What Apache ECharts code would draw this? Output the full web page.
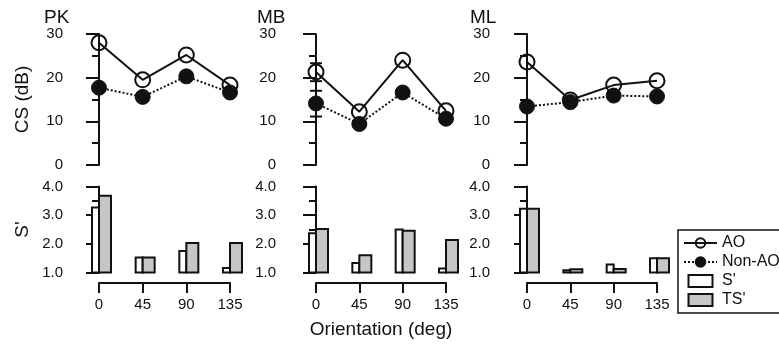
<!DOCTYPE html>
<html>
<head>
<meta charset="utf-8">
<script src="https://cdn.jsdelivr.net/npm/echarts@6/dist/echarts.min.js"></script>
<style>
  html, body { margin: 0; padding: 0; background: #fff; }
  #chart { width: 779px; height: 345px; }
</style>
</head>
<body>
<div id="chart"></div>
<script>
// orientations (deg) and subjects
var angles = [0, 45, 90, 135];
var subjects = ['PK', 'MB', 'ML'];

// contrast sensitivity (dB)
var pkAO = [28.0, 19.5, 25.2, 18.3];
var pkNonAO = [17.7, 15.6, 20.3, 16.6];
var mbAO = [21.3, 12.2, 24.0, 12.4];
var mbNonAO = [14.1, 9.4, 16.6, 10.6];
var mlAO = [23.6, 14.9, 18.3, 19.3];
var mlNonAO = [13.4, 14.4, 15.9, 15.7];

// error bars at 0 deg for MB: [low, high]
var mbAOErr = [19.2, 23.3];
var mbNonAOErr = [11.1, 17.0];

// S' and TS'
var pkS = [3.27, 1.52, 1.75, 1.16];
var pkTS = [3.68, 1.52, 2.03, 2.03];
var mbS = [2.37, 1.33, 2.50, 1.14];
var mbTS = [2.52, 1.60, 2.46, 2.13];
var mlS = [3.22, 1.08, 1.28, 1.50];
var mlTS = [3.22, 1.11, 1.12, 1.50];

var csTicks = [0, 30, 10];   // min, max, step
var sTicks = [1, 4, 1];

var aoSets = [pkAO, mbAO, mlAO];
var nonAoSets = [pkNonAO, mbNonAO, mlNonAO];
var sSets = [pkS, mbS, mlS];
var tsSets = [pkTS, mbTS, mlTS];

// pixel layout of each panel column: y axis x, x of 0 deg, x of 135 deg
var cols = [
  {axisX: 80, x0: 99, x135: 230, titleX: 44},
  {axisX: 293, x0: 316, x135: 446, titleX: 257},
  {axisX: 507, x0: 527, x135: 657, titleX: 470}
];
var xMax = 150;
var FONT = '"Liberation Sans", Arial, Helvetica, sans-serif';
var INK = '#111';
var GREY = '#c6c6c6';

var chart = echarts.init(document.getElementById('chart'));

var grids = [], xAxes = [], yAxes = [], series = [], titles = [];

function yAxisBase(gi, min, max, step, fmt) {
  return {
    type: 'value', gridIndex: gi, min: min, max: max, interval: step,
    axisLine: {show: true, lineStyle: {color: INK, width: 2}},
    axisTick: {show: true, length: 13, lineStyle: {color: INK, width: 2}},
    minorTick: {show: true, splitNumber: 2, length: 7, lineStyle: {color: INK, width: 2}},
    splitLine: {show: false},
    axisLabel: {color: INK, fontSize: 15, fontFamily: FONT, margin: 17, formatter: fmt}
  };
}

// bar drawn from the 1.0 floor up to the value; side -1 = left of tick, 1 = right
function barRender(side, width, fill) {
  return function (params, api) {
    var x = api.value(0);
    var top = api.coord([x, api.value(1)]);
    var base = api.coord([x, sTicks[0]]);
    var left = side < 0 ? top[0] - width : top[0];
    return {
      type: 'rect',
      shape: {x: left, y: top[1], width: width, height: base[1] - top[1]},
      style: {fill: fill, stroke: INK, lineWidth: 2}
    };
  };
}

cols.forEach(function (c, i) {
  var scale = (c.x135 - c.x0) / 135;
  var xMin = -(c.x0 - c.axisX) / scale;
  var w = (xMax - xMin) * scale;
  var gTop = i * 3, gBar = i * 3 + 1, gAx = i * 3 + 2;

  grids.push({left: c.axisX, top: 34, width: w, height: 131});
  grids.push({left: c.axisX, top: 186.5, width: w, height: 86});
  grids.push({left: c.x0, top: 270, width: c.x135 - c.x0, height: 13});

  var hidX = {type: 'value', min: xMin, max: xMax, show: false};
  xAxes.push(Object.assign({gridIndex: gTop}, hidX));
  xAxes.push(Object.assign({gridIndex: gBar}, hidX));
  xAxes.push({
    type: 'value', gridIndex: gAx, min: 0, max: 135, interval: 45,
    axisLine: {show: true, lineStyle: {color: INK, width: 2}},
    axisTick: {show: true, length: 10, lineStyle: {color: INK, width: 2}},
    splitLine: {show: false},
    axisLabel: {color: INK, fontSize: 15, fontFamily: FONT, margin: 14},
    name: i === 1 ? 'Orientation (deg)' : '',
    nameLocation: 'middle', nameGap: 37,
    nameTextStyle: {color: INK, fontSize: 19, fontFamily: FONT}
  });

  var yTop = yAxisBase(gTop, csTicks[0], csTicks[1], csTicks[2]);
  var yBar = yAxisBase(gBar, sTicks[0], sTicks[1], sTicks[2], function (v) { return v.toFixed(1); });
  if (i === 0) {
    yTop.name = 'CS (dB)';
    yBar.name = "S'";
    [yTop, yBar].forEach(function (y) {
      y.nameLocation = 'middle';
      y.nameGap = 48;
      y.nameTextStyle = {color: INK, fontSize: 19, fontFamily: FONT};
    });
  }
  yAxes.push(yTop, yBar, {type: 'value', gridIndex: gAx, min: 0, max: 1, show: false});

  titles.push({text: subjects[i], left: c.titleX, top: 8, padding: 0,
    textStyle: {color: INK, fontSize: 19, fontWeight: 'normal', fontFamily: FONT}});

  series.push({
    name: 'AO', type: 'line', xAxisIndex: gTop, yAxisIndex: gTop,
    data: angles.map(function (a, j) { return [a, aoSets[i][j]]; }),
    symbol: 'circle', symbolSize: 15, z: 2,
    lineStyle: {color: INK, width: 2, type: 'solid'},
    itemStyle: {color: 'rgba(255,255,255,0)', borderColor: INK, borderWidth: 2}
  });
  series.push({
    name: 'Non-AO', type: 'line', xAxisIndex: gTop, yAxisIndex: gTop,
    data: angles.map(function (a, j) { return [a, nonAoSets[i][j]]; }),
    symbol: 'circle', symbolSize: 15, z: 3,
    lineStyle: {color: INK, width: 2, type: [2, 2]},
    itemStyle: {color: INK, borderColor: INK, borderWidth: 1}
  });

  series.push({
    name: "S'", type: 'custom', xAxisIndex: gBar, yAxisIndex: gBar,
    renderItem: barRender(-1, 7, '#fff'),
    itemStyle: {color: '#fff', borderColor: INK, borderWidth: 2},
    encode: {x: 0, y: 1},
    data: angles.map(function (a, j) { return [a, sSets[i][j]]; })
  });
  series.push({
    name: "TS'", type: 'custom', xAxisIndex: gBar, yAxisIndex: gBar,
    renderItem: barRender(1, 12, GREY),
    itemStyle: {color: GREY, borderColor: INK, borderWidth: 2},
    encode: {x: 0, y: 1},
    data: angles.map(function (a, j) { return [a, tsSets[i][j]]; })
  });
});

// error bars (MB, 0 deg)
function errRender(params, api) {
  var x = api.value(0);
  var lo = api.coord([x, api.value(1)]);
  var hi = api.coord([x, api.value(2)]);
  var w = 6;
  var st = {stroke: INK, lineWidth: 2};
  return {type: 'group', children: [
    {type: 'line', shape: {x1: lo[0], y1: lo[1], x2: hi[0], y2: hi[1]}, style: st},
    {type: 'line', shape: {x1: lo[0] - w, y1: lo[1], x2: lo[0] + w, y2: lo[1]}, style: st},
    {type: 'line', shape: {x1: hi[0] - w, y1: hi[1], x2: hi[0] + w, y2: hi[1]}, style: st}
  ]};
}
series.push({
  type: 'custom', xAxisIndex: 3, yAxisIndex: 3, renderItem: errRender, z: 4,
  encode: {x: 0, y: [1, 2]},
  data: [[angles[0], mbAOErr[0], mbAOErr[1]], [angles[0], mbNonAOErr[0], mbNonAOErr[1]]]
});

chart.setOption({
  animation: false,
  backgroundColor: '#fff',
  title: titles,
  grid: grids,
  xAxis: xAxes,
  yAxis: yAxes,
  legend: {
    orient: 'vertical', left: 678, top: 230,
    padding: [5, 30, 5, 5],
    itemGap: 3, itemWidth: 33, itemHeight: 12,
    borderColor: INK, borderWidth: 1.5,
    textStyle: {color: INK, fontSize: 16, fontFamily: FONT},
    data: [
      {name: 'AO'},
      {name: 'Non-AO'},
      {name: "S'", icon: 'path://M0,0h20v10h-20z', itemStyle: {color: '#fff', borderColor: INK, borderWidth: 2}},
      {name: "TS'", icon: 'path://M0,0h20v10h-20z', itemStyle: {color: GREY, borderColor: INK, borderWidth: 2}}
    ]
  },
  series: series
});
</script>
</body>
</html>
